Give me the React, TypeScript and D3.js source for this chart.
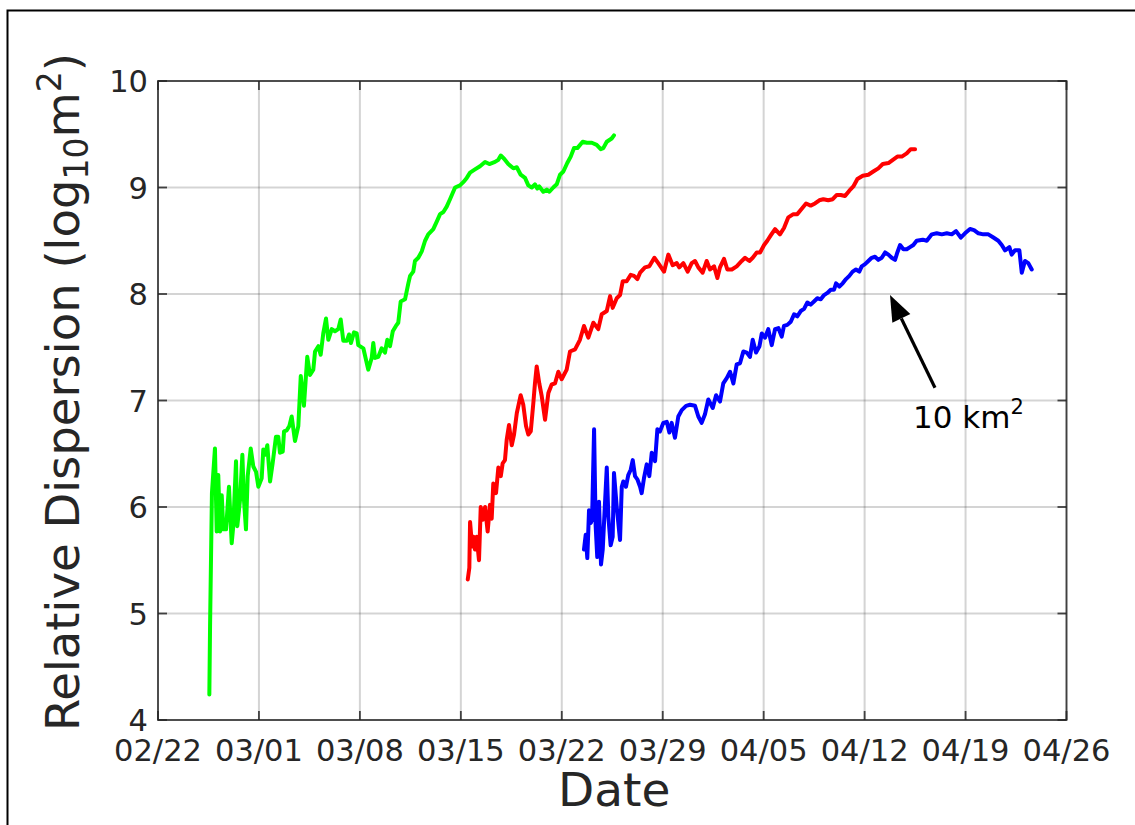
import React from "react";
import * as d3 from "d3";

// ---- data (day offsets from 02/22, log10 m^2) ----
const xTickLabels = ["02/22", "03/01", "03/08", "03/15", "03/22", "03/29", "04/05", "04/12", "04/19", "04/26"];
const yTickValues = [4, 5, 6, 7, 8, 9, 10];

const greenDays = [3.56, 3.61, 3.74, 3.95, 4.07, 4.18, 4.30, 4.42, 4.53, 4.72, 4.92, 5.11, 5.22, 5.41, 5.50, 5.69, 5.85, 5.96, 6.10, 6.22, 6.43, 6.61, 6.80, 6.96, 7.19, 7.30, 7.42, 7.58, 7.77, 7.95, 8.18, 8.34, 8.46, 8.65, 8.74, 8.93, 9.11, 9.27, 9.50, 9.73, 9.90, 10.12, 10.35, 10.54, 10.77, 10.89, 11.12, 11.28, 11.46, 11.65, 11.81, 12.05, 12.27, 12.50, 12.67, 12.85, 13.09, 13.25, 13.38, 13.59, 13.78, 13.89, 14.24, 14.58, 14.82, 14.93, 15.05, 15.28, 15.51, 15.74, 15.90, 16.09, 16.28, 16.50, 16.66, 16.83, 17.13, 17.36, 17.48, 17.70, 17.82, 18.05, 18.29, 18.52, 18.74, 19.09, 19.33, 19.56, 19.79, 20.02, 20.25, 20.60, 20.94, 21.17, 21.41, 21.64, 21.98, 22.33, 22.68, 22.98, 23.37, 23.60, 23.77, 24.00, 24.29, 24.64, 24.88, 25.15, 25.45, 25.68, 25.92, 26.14, 26.30, 26.44, 26.72, 26.96, 27.14, 27.41, 27.65, 27.88, 28.11, 28.38, 28.62, 28.85, 29.08, 29.45, 29.73, 30.08, 30.42, 30.70, 30.88, 31.12, 31.46, 31.62];
const greenValues = [4.24, 4.88, 6.13, 6.55, 5.77, 6.30, 5.77, 6.11, 5.79, 5.79, 6.19, 5.66, 5.82, 6.43, 5.82, 6.07, 6.49, 6.07, 5.79, 6.29, 6.55, 6.38, 6.33, 6.19, 6.27, 6.54, 6.49, 6.58, 6.24, 6.41, 6.66, 6.66, 6.51, 6.52, 6.71, 6.72, 6.76, 6.85, 6.62, 6.76, 7.23, 6.95, 7.41, 7.24, 7.29, 7.46, 7.51, 7.43, 7.63, 7.77, 7.57, 7.67, 7.65, 7.67, 7.76, 7.56, 7.56, 7.62, 7.54, 7.64, 7.63, 7.52, 7.49, 7.29, 7.40, 7.54, 7.40, 7.41, 7.49, 7.45, 7.57, 7.51, 7.65, 7.70, 7.73, 7.93, 7.95, 8.10, 8.17, 8.21, 8.31, 8.34, 8.40, 8.50, 8.56, 8.61, 8.68, 8.75, 8.77, 8.82, 8.89, 9.00, 9.02, 9.05, 9.09, 9.14, 9.17, 9.20, 9.24, 9.22, 9.24, 9.26, 9.30, 9.27, 9.22, 9.18, 9.19, 9.12, 9.09, 9.02, 9.00, 9.03, 8.99, 9.01, 8.96, 8.98, 8.96, 9.00, 9.03, 9.12, 9.15, 9.23, 9.29, 9.37, 9.37, 9.43, 9.42, 9.42, 9.40, 9.36, 9.37, 9.43, 9.46, 9.49];

const redDays = [21.48, 21.59, 21.64, 21.78, 21.87, 21.98, 22.10, 22.26, 22.38, 22.52, 22.68, 22.86, 23.02, 23.14, 23.25, 23.44, 23.60, 23.77, 23.90, 24.06, 24.18, 24.34, 24.53, 24.69, 24.88, 25.15, 25.33, 25.52, 25.68, 25.85, 26.03, 26.14, 26.26, 26.44, 26.61, 26.84, 27.07, 27.30, 27.53, 27.76, 27.99, 28.34, 28.57, 28.92, 29.26, 29.54, 29.84, 30.19, 30.53, 30.77, 31.12, 31.35, 31.53, 31.81, 32.04, 32.23, 32.50, 32.78, 33.01, 33.24, 33.43, 33.77, 34.07, 34.42, 34.69, 35.09, 35.39, 35.69, 35.97, 36.15, 36.43, 36.73, 37.01, 37.24, 37.47, 37.77, 38.05, 38.28, 38.56, 38.79, 38.97, 39.25, 39.48, 39.79, 40.13, 40.48, 40.71, 41.01, 41.24, 41.52, 41.75, 42.03, 42.25, 42.49, 42.79, 43.13, 43.41, 43.71, 44.06, 44.33, 44.64, 44.94, 45.26, 45.56, 45.86, 46.14, 46.48, 46.79, 47.07, 47.34, 47.64, 47.94, 48.22, 48.50, 48.87, 49.26, 49.60, 49.95, 50.26, 50.65, 50.96, 51.27, 51.58, 51.92, 52.20, 52.50];
const redValues = [5.32, 5.43, 5.86, 5.63, 5.72, 5.60, 5.72, 5.50, 6.00, 5.88, 6.00, 5.77, 6.02, 5.89, 6.22, 6.13, 6.37, 6.29, 6.41, 6.44, 6.63, 6.77, 6.58, 6.68, 6.88, 7.05, 6.96, 6.76, 6.68, 6.71, 6.98, 7.16, 7.32, 7.16, 7.04, 6.82, 7.07, 7.15, 7.16, 7.27, 7.20, 7.29, 7.46, 7.48, 7.57, 7.70, 7.59, 7.73, 7.67, 7.81, 7.84, 7.98, 7.87, 7.96, 7.99, 8.12, 8.12, 8.18, 8.17, 8.14, 8.20, 8.25, 8.26, 8.34, 8.29, 8.21, 8.37, 8.27, 8.29, 8.25, 8.29, 8.21, 8.29, 8.31, 8.25, 8.20, 8.31, 8.23, 8.26, 8.15, 8.25, 8.33, 8.23, 8.23, 8.26, 8.31, 8.34, 8.31, 8.34, 8.39, 8.39, 8.46, 8.50, 8.55, 8.61, 8.56, 8.62, 8.72, 8.75, 8.75, 8.80, 8.85, 8.83, 8.85, 8.88, 8.89, 8.88, 8.89, 8.93, 8.93, 8.92, 8.97, 9.01, 9.08, 9.11, 9.12, 9.15, 9.18, 9.22, 9.23, 9.26, 9.29, 9.29, 9.32, 9.36, 9.36];

const blueDays = [29.54, 29.66, 29.77, 29.89, 30.01, 30.10, 30.24, 30.35, 30.46, 30.58, 30.72, 30.84, 30.95, 31.12, 31.23, 31.39, 31.53, 31.62, 31.81, 32.04, 32.16, 32.27, 32.45, 32.61, 32.78, 32.92, 33.08, 33.24, 33.43, 33.54, 33.70, 33.89, 34.07, 34.24, 34.47, 34.63, 34.81, 35.04, 35.28, 35.46, 35.62, 35.85, 36.08, 36.32, 36.62, 36.89, 37.24, 37.47, 37.70, 37.93, 38.16, 38.47, 38.70, 38.97, 39.20, 39.44, 39.67, 39.90, 40.13, 40.36, 40.59, 40.83, 41.05, 41.24, 41.47, 41.71, 41.87, 42.09, 42.32, 42.56, 42.79, 43.02, 43.25, 43.41, 43.64, 43.88, 44.11, 44.33, 44.57, 44.80, 45.03, 45.26, 45.49, 45.72, 45.96, 46.19, 46.42, 46.65, 46.88, 47.02, 47.25, 47.48, 47.71, 47.94, 48.17, 48.40, 48.63, 48.80, 49.03, 49.26, 49.49, 49.72, 49.95, 50.19, 50.42, 50.65, 50.88, 51.11, 51.27, 51.46, 51.69, 51.92, 52.15, 52.38, 52.61, 53.03, 53.31, 53.66, 54.00, 54.35, 54.70, 55.04, 55.34, 55.67, 55.96, 56.31, 56.59, 56.89, 57.23, 57.58, 57.93, 58.27, 58.51, 58.74, 59.04, 59.20, 59.43, 59.73, 59.90, 60.12, 60.35, 60.59];
const blueValues = [5.60, 5.74, 5.52, 5.97, 5.85, 5.88, 6.73, 5.82, 5.53, 6.05, 5.46, 5.60, 5.91, 6.37, 5.91, 5.64, 5.72, 6.32, 6.00, 5.69, 6.19, 6.24, 6.19, 6.30, 6.35, 6.44, 6.29, 6.26, 6.19, 6.13, 6.27, 6.40, 6.29, 6.51, 6.43, 6.73, 6.71, 6.79, 6.80, 6.70, 6.79, 6.65, 6.85, 6.91, 6.95, 6.96, 6.95, 6.85, 6.79, 6.87, 7.01, 6.93, 7.05, 6.99, 7.16, 7.21, 7.27, 7.16, 7.34, 7.35, 7.46, 7.45, 7.41, 7.57, 7.45, 7.51, 7.63, 7.59, 7.67, 7.52, 7.67, 7.68, 7.60, 7.70, 7.71, 7.74, 7.81, 7.79, 7.84, 7.86, 7.92, 7.90, 7.93, 7.96, 7.95, 7.99, 8.01, 8.04, 8.04, 8.10, 8.07, 8.10, 8.14, 8.17, 8.21, 8.23, 8.21, 8.26, 8.28, 8.31, 8.34, 8.35, 8.32, 8.34, 8.39, 8.37, 8.34, 8.32, 8.39, 8.46, 8.42, 8.42, 8.44, 8.46, 8.50, 8.51, 8.50, 8.56, 8.57, 8.56, 8.57, 8.56, 8.59, 8.53, 8.57, 8.61, 8.60, 8.57, 8.56, 8.56, 8.53, 8.50, 8.46, 8.41, 8.44, 8.37, 8.41, 8.41, 8.20, 8.31, 8.29, 8.23];

// annotation: arrow from tail to tip, label
const arrowTail = { day: 53.88, value: 7.12 };
const arrowTip = { day: 50.76, value: 7.99 };
const annotationPos = { day: 52.36, value: 6.74 };

const BASE = Date.UTC(2015, 1, 22);
const dayToDate = (d: number) => new Date(BASE + d * 86400000);
const labelToDate = (s: string) => {
  const [m, d] = s.split("/").map(Number);
  return new Date(Date.UTC(2015, m - 1, d));
};

const W = 1135;
const H = 825;
const L = 158, R = 1066.5, T = 81, B = 720;
const FONT = "'DejaVu Sans', sans-serif";
const AX = "#262626";

export default function App() {
  const tickDates = xTickLabels.map(labelToDate);
  const x = d3.scaleUtc().domain([tickDates[0], tickDates[tickDates.length - 1]]).range([L, R]);
  const y = d3.scaleLinear().domain([4, 10]).range([B, T]);
  const line = d3.line<[number, number]>().x((d) => x(dayToDate(d[0]))).y((d) => y(d[1]));

  const series = [
    { days: greenDays, values: greenValues, color: "#00ff00" },
    { days: redDays, values: redValues, color: "#ff0000" },
    { days: blueDays, values: blueValues, color: "#0000ff" },
  ];

  const tl = 9;
  const tx = x(dayToDate(arrowTail.day)), ty = y(arrowTail.value);
  const hx = x(dayToDate(arrowTip.day)), hy = y(arrowTip.value);
  const ang = Math.atan2(hy - ty, hx - tx);
  const headLen = 26, headW = 10;
  const bx = hx - headLen * Math.cos(ang), by = hy - headLen * Math.sin(ang);
  const px = -Math.sin(ang), py = Math.cos(ang);
  const head = `M${hx},${hy}L${bx + headW * px},${by + headW * py}L${bx - headW * px},${by - headW * py}Z`;

  return (
    <svg width={W} height={H} style={{ position: "absolute", left: 0, top: 0, background: "#fff" }} fontFamily={FONT}>
      <rect x={0} y={0} width={W} height={H} fill="#fff" />
      <rect x={7.5} y={10.5} width={W + 50} height={H + 50} fill="none" stroke="#000" strokeWidth={2} />
      {/* grid */}
      <g stroke="#262626" strokeOpacity={0.2} strokeWidth={2}>
        {tickDates.map((d, i) => (
          <line key={"gx" + i} x1={x(d)} x2={x(d)} y1={T} y2={B} />
        ))}
        {yTickValues.map((v, i) => (
          <line key={"gy" + i} x1={L} x2={R} y1={y(v)} y2={y(v)} />
        ))}
      </g>
      {/* series */}
      {series.map((s, i) => (
        <path
          key={i}
          d={line(s.days.map((d, j) => [d, s.values[j]] as [number, number])) || ""}
          fill="none"
          stroke={s.color}
          strokeWidth={4}
          strokeLinejoin="round"
          strokeLinecap="round"
        />
      ))}
      {/* axes box and ticks */}
      <g stroke={AX} strokeOpacity={0.85} strokeWidth={1.8}>
        <rect x={L} y={T} width={R - L} height={B - T} fill="none" />
        {tickDates.map((d, i) => (
          <g key={"tx" + i}>
            <line x1={x(d)} x2={x(d)} y1={B} y2={B - tl} />
            <line x1={x(d)} x2={x(d)} y1={T} y2={T + tl} />
          </g>
        ))}
        {yTickValues.map((v, i) => (
          <g key={"ty" + i}>
            <line x1={L} x2={L + tl} y1={y(v)} y2={y(v)} />
            <line x1={R} x2={R - tl} y1={y(v)} y2={y(v)} />
          </g>
        ))}
      </g>
      {/* tick labels */}
      <g fill={AX} fontSize={30.5}>
        {tickDates.map((d, i) => (
          <text key={"lx" + i} x={x(d)} y={761} textAnchor="middle">
            {xTickLabels[i]}
          </text>
        ))}
        {yTickValues.map((v, i) => (
          <text key={"ly" + i} x={L - 10} y={y(v) + 11} textAnchor="end">
            {d3.format("d")(v)}
          </text>
        ))}
      </g>
      {/* axis labels */}
      <text x={(L + R) / 2 + 2} y={806} textAnchor="middle" fontSize={47} fill={AX}>
        Date
      </text>
      <text transform={`translate(79,392) rotate(-90)`} textAnchor="middle" fontSize={46.5} fill={AX}>
        Relative Dispersion (log
        <tspan fontSize={33} dy={9}>10</tspan>
        <tspan dy={-9}>m</tspan>
        <tspan fontSize={33} dy={-18}>2</tspan>
        <tspan dy={18}>)</tspan>
      </text>
      {/* annotation */}
      <line x1={tx} y1={ty} x2={bx} y2={by} stroke="#000" strokeWidth={3.2} />
      <path d={head} fill="#000" />
      <text x={x(dayToDate(annotationPos.day))} y={y(annotationPos.value)} fontSize={31} fill="#000">
        10 km
        <tspan fontSize={21} dy={-14}>2</tspan>
      </text>
    </svg>
  );
}
